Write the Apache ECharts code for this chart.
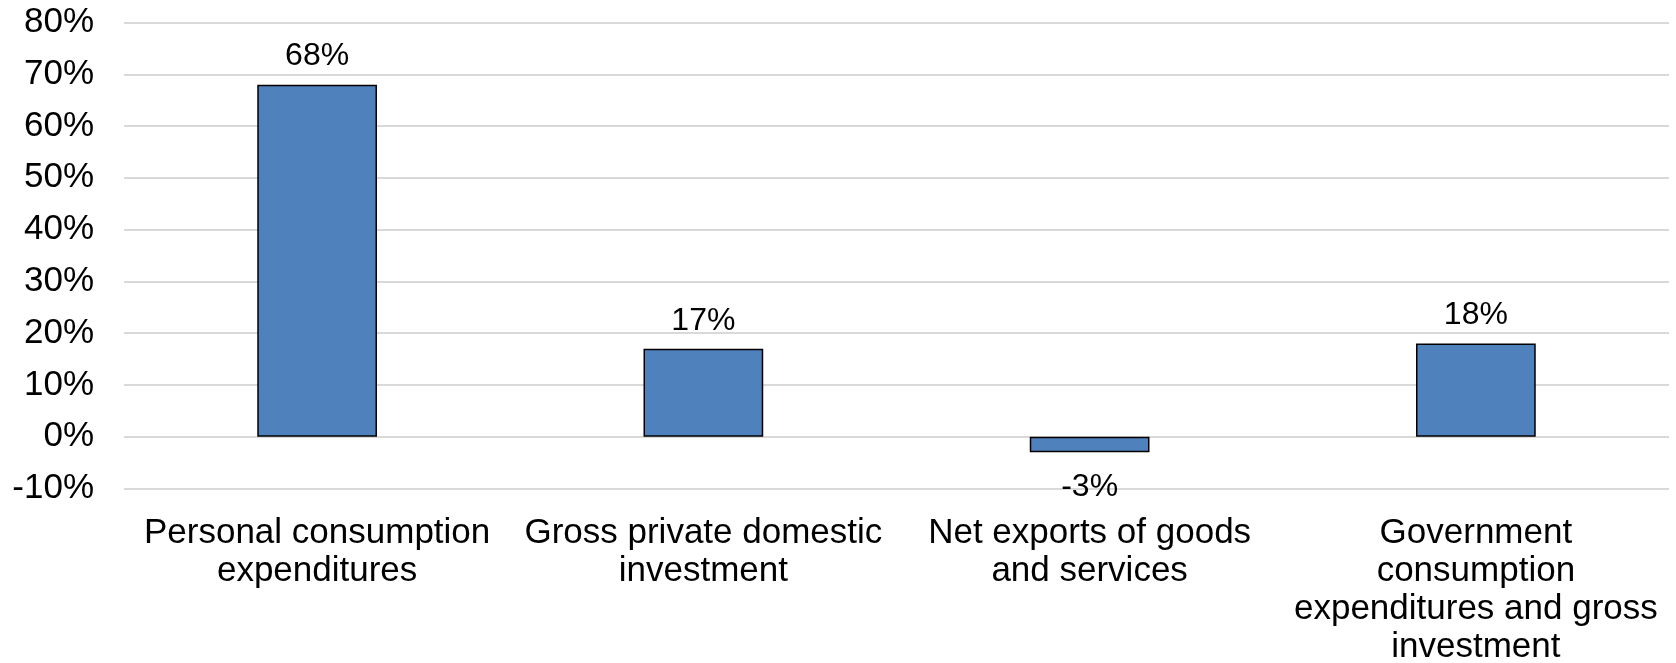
<!DOCTYPE html>
<html>
<head>
<meta charset="utf-8">
<script src="https://cdn.jsdelivr.net/npm/echarts@6/dist/echarts.min.js"></script>
<style>
  html, body { margin: 0; padding: 0; background: #fff; }
  #chart { width: 1676px; height: 663px; }
</style>
</head>
<body>
<div id="chart"></div>
<script>
// categories (line breaks as in the original chart)
const categories = [
  'Personal consumption\nexpenditures',
  'Gross private domestic\ninvestment',
  'Net exports of goods\nand services',
  'Government\nconsumption\nexpenditures and gross\ninvestment'
]
// share of GDP, percent
const shares = [68, 17, -3, 18]
const yMin = -10
const yMax = 80
const yStep = 10

const chart = echarts.init(document.getElementById('chart'))

const font = 'Liberation Sans, Arial, sans-serif'

const option = {
  animation: false,
  grid: {
    left: 124,
    right: 7,
    top: 22.5,
    bottom: 174.5,
    outerBoundsMode: 'none'
  },
  xAxis: {
    type: 'category',
    data: categories,
    axisLine: { show: false },
    axisTick: { show: false },
    axisLabel: {
      color: '#000',
      fontFamily: font,
      fontSize: 35,
      lineHeight: 38,
      margin: 26,
      interval: 0
    }
  },
  yAxis: {
    type: 'value',
    min: yMin,
    max: yMax,
    interval: yStep,
    axisLine: { show: false },
    axisTick: { show: false },
    axisLabel: {
      color: '#000',
      fontFamily: font,
      fontSize: 35,
      margin: 30,
      formatter: '{value}%'
    },
    splitLine: {
      lineStyle: { color: '#D9D9D9', width: 2 }
    }
  },
  series: [
    {
      type: 'bar',
      barWidth: '31%',
      data: shares.map(v => ({
        value: v,
        label: v < 0 ? { position: 'bottom', distance: 19 } : { position: 'top', distance: 12 }
      })),
      itemStyle: {
        color: '#4F81BD',
        borderColor: '#000',
        borderWidth: 1.5
      },
      label: {
        show: true,
        color: '#000',
        fontFamily: font,
        fontSize: 32,
        formatter: p => p.value + '%'
      }
    }
  ]
}

chart.setOption(option)
</script>
</body>
</html>
